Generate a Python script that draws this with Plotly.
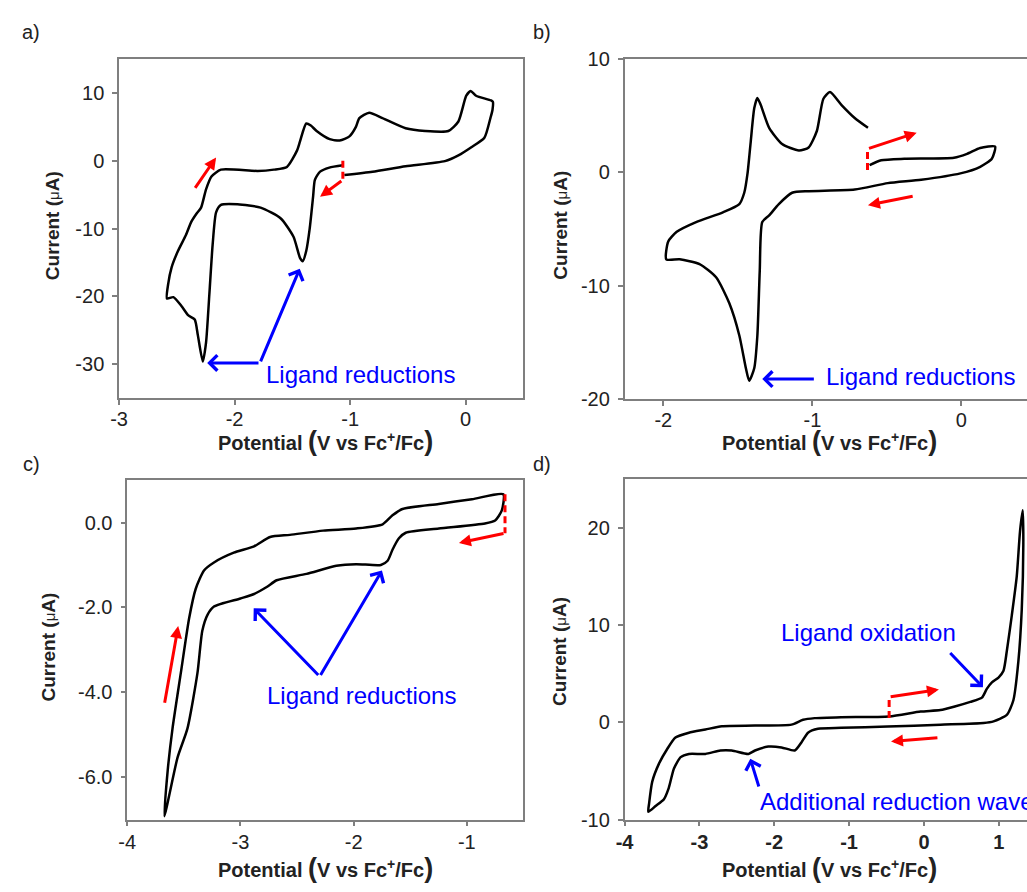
import plotly.graph_objects as go

FONT = "Arial, 'Liberation Sans', Helvetica, sans-serif"

# ---------------- data ----------------
# Panel a
a_potential = [-1.063, -1.18, -1.26, -1.305, -1.32, -1.35, -1.38, -1.41, -1.434, -1.49,
               -1.6, -1.775, -1.975, -2.118, -2.16, -2.19, -2.218, -2.247, -2.275, -2.318,
               -2.345, -2.40, -2.46, -2.53, -2.585, -2.574, -2.545, -2.49, -2.42, -2.375,
               -2.33, -2.29, -2.247, -2.20, -2.118, -1.8, -1.66, -1.547, -1.46, -1.433,
               -1.38, -1.34, -1.29, -1.177, -1.09, -1.006, -0.95, -0.92, -0.835, -0.72,
               -0.52, -0.35, -0.15, -0.063, 0.005, 0.043, 0.09, 0.22, 0.235, 0.232,
               0.214, 0.162, 0.049, -0.063, -0.18, -0.52, -0.806, -1.05]
a_current = [-0.66, -1.0, -1.6, -2.8, -5.2, -10.0, -13.3, -14.8, -14.3, -11.2,
             -8.5, -6.9, -6.4, -6.5, -7.6, -12.4, -19.6, -26.8, -29.6, -25.7,
             -23.4, -22.8, -21.4, -20.1, -20.3, -18.1, -15.7, -13.3, -10.9, -9.0,
             -7.8, -6.9, -4.2, -2.3, -1.3, -1.5, -1.3, -0.9, 1.5, 2.9,
             5.5, 5.2, 4.4, 3.2, 3.0, 3.6, 5.0, 6.3, 7.1, 6.3,
             4.8, 4.4, 4.4, 5.8, 9.6, 10.3, 9.6, 8.9, 8.7, 7.5,
             6.3, 3.4, 2.0, 0.8, -0.05, -0.8, -1.6, -2.1]

# Panel b
b_potential = [-0.627, -0.716, -0.804, -0.882, -0.926, -0.97, -1.025, -1.09, -1.203, -1.29,
               -1.346, -1.369, -1.39, -1.413, -1.435, -1.457, -1.49, -1.60, -1.78, -1.91,
               -1.967, -1.98, -1.89, -1.757, -1.646, -1.557, -1.49, -1.446, -1.424, -1.39,
               -1.369, -1.353, -1.336, -1.29, -1.225, -1.136, -1.025, -0.716, -0.494, -0.27,
               -0.007, 0.126, 0.204, 0.226, 0.126, 0.038, -0.05, -0.383, -0.538, -0.616]
b_current = [3.93, 4.8, 5.94, 7.09, 6.5, 3.65, 2.2, 1.93, 2.5, 3.93,
             5.94, 6.57, 5.65, 2.79, -0.09, -1.8, -2.8, -3.53, -4.39, -5.25,
             -6.1, -7.68, -7.68, -8.1, -9.26, -11.56, -14.4, -17.3, -18.4, -17.3,
             -14.4, -8.7, -4.39, -3.8, -2.8, -1.8, -1.66, -1.52, -0.95, -0.65,
             -0.09, 0.49, 1.2, 2.27, 2.15, 1.63, 1.29, 1.2, 1.07, 0.64]

# Panel c
c_potential = [-0.678, -0.692, -0.75, -0.84, -1.248, -1.54, -1.60, -1.657, -1.70, -1.76,
               -1.978, -2.153, -2.416, -2.68, -2.768, -2.885, -3.0, -3.234, -3.29, -3.337,
               -3.38, -3.468, -3.556, -3.672, -3.643, -3.60, -3.527, -3.453, -3.395, -3.322,
               -3.234, -3.059, -2.88, -2.738, -2.563, -2.27, -1.978, -1.744, -1.657, -1.569,
               -1.248, -0.955, -0.678]
c_current = [0.667, 0.28, 0.05, -0.02, -0.14, -0.24, -0.37, -0.64, -0.9, -1.0,
             -0.98, -1.02, -1.21, -1.36, -1.52, -1.69, -1.79, -1.98, -2.17, -2.55,
             -3.55, -4.85, -5.54, -6.92, -5.85, -4.85, -3.55, -2.25, -1.56, -1.13,
             -0.94, -0.71, -0.56, -0.34, -0.29, -0.19, -0.14, -0.04, 0.17, 0.32,
             0.44, 0.55, 0.667]

# Panel d
d_potential = [-0.465, -0.044, 0.22, 0.4, 0.62, 0.775, 0.84, 0.908, 0.996, 1.063,
               1.107, 1.174, 1.24, 1.284, 1.32, 1.328, 1.307, 1.262, 1.195, 1.107,
               0.93, 0.797, 0.22, -0.486, -1.106, -1.416, -1.549, -1.637, -1.726, -1.903,
               -2.08, -2.257, -2.345, -2.567, -2.72, -2.92, -3.14, -3.25, -3.34, -3.41,
               -3.474, -3.585, -3.683, -3.673, -3.63, -3.54, -3.43, -3.32, -3.14, -2.92,
               -2.70, -2.257, -1.77, -1.615, -1.46, -1.106, -0.465]
d_current = [0.6, 1.1, 1.26, 1.6, 2.1, 2.54, 3.44, 4.1, 4.6, 5.3,
             7.3, 11.0, 15.0, 19.66, 21.8, 18.3, 11.6, 6.3, 2.27, 0.76,
             0.1, -0.07, -0.24, -0.44, -0.57, -0.67, -1.07, -2.07, -2.9, -2.58,
             -2.5, -2.9, -3.25, -2.9, -2.9, -3.25, -3.25, -3.58, -4.75, -6.76,
             -7.9, -8.6, -9.2, -8.4, -6.1, -4.25, -2.75, -1.57, -1.07, -0.74,
             -0.4, -0.34, -0.24, 0.26, 0.43, 0.53, 0.6]

# Tick values / labels
a_xticks = [-3, -2, -1, 0]
a_xlabels = ["-3", "-2", "-1", "0"]
a_yticks = [-30, -20, -10, 0, 10]
a_ylabels = ["-30", "-20", "-10", "0", "10"]
b_xticks = [-2, -1, 0]
b_xlabels = ["-2", "-1", "0"]
b_yticks = [-20, -10, 0, 10]
b_ylabels = ["-20", "-10", "0", "10"]
c_xticks = [-4, -3, -2, -1]
c_xlabels = ["-4", "-3", "-2", "-1"]
c_yticks = [-6, -4, -2, 0]
c_ylabels = ["-6.0", "-4.0", "-2.0", "0.0"]
d_xticks = [-4, -3, -2, -1, 0, 1]
d_xlabels = ["-4", "-3", "-2", "-1", "0", "1"]
d_yticks = [-10, 0, 10, 20]
d_ylabels = ["-10", "0", "10", "20"]

panel_letters = ["a)", "b)", "c)", "d)"]
x_title = ("<b>Potential </b><b><span style='font-size:27px'>(</span>V vs Fc<sup>+</sup>/Fc"
           "<span style='font-size:27px'>)</span></b>")
y_title = "<b>Current </b><b>(</b><span style='font-size:15px'>μ</span><b>A)</b>"

W, H = 1027, 892
BLUE = "#0000ff"
RED = "#ff0000"
FRAME = "#7f7f7f"

fig = go.Figure()
curve_line = dict(color="black", width=2.5, shape="spline", smoothing=0.6)
for xs, ys, xa, ya in [(a_potential, a_current, "x", "y"),
                       (b_potential, b_current, "x2", "y2"),
                       (c_potential, c_current, "x3", "y3"),
                       (d_potential, d_current, "x4", "y4")]:
    fig.add_trace(go.Scatter(x=xs, y=ys, xaxis=xa, yaxis=ya, mode="lines",
                             line=curve_line, hoverinfo="skip", showlegend=False))


def px_x(p):
    return p / W


def px_y(p):
    return 1 - p / H


def axis(domain, rng, tickvals, ticktext, anchor, mirror=True, bold=False, standoff=None):
    d = dict(domain=domain, range=rng, tickvals=tickvals, ticktext=ticktext,
             anchor=anchor, showline=True, linecolor=FRAME, linewidth=1.5,
             mirror=mirror, ticks="outside", ticklen=5, tickwidth=1.5,
             tickcolor=FRAME, showgrid=False, zeroline=False,
             tickfont=dict(family=FONT, size=20, color="#222222",
                           weight="bold" if bold else "normal"),
             fixedrange=True)
    if standoff is not None:
        d["ticklabelstandoff"] = standoff
    return d


fig.update_layout(
    width=W, height=H, margin=dict(l=0, r=0, t=0, b=0),
    paper_bgcolor="white", plot_bgcolor="white", showlegend=False,
    font=dict(family=FONT, color="#222222"),
    xaxis=axis([px_x(111), px_x(519)], [-3, 0.5], a_xticks, a_xlabels, "y", standoff=-3),
    yaxis=axis([px_y(397), px_y(49.3)], [-35, 15], a_yticks, a_ylabels, "x", standoff=4),
    xaxis2=axis([px_x(621), 1.0], [-2.26, 0.44], b_xticks, b_xlabels, "y2", standoff=-3),
    yaxis2=axis([px_y(397.7), px_y(49.3)], [-20, 10], b_yticks, b_ylabels, "x2",
                mirror=False, standoff=4),
    xaxis3=axis([px_x(119.3), px_x(519)], [-4, -0.5], c_xticks, c_xlabels, "y3", standoff=-1),
    yaxis3=axis([px_y(829), px_y(481)], [-7, 1], c_yticks, c_ylabels, "x3", standoff=4),
    xaxis4=axis([px_x(621), 1.0], [-4, 1.377], d_xticks, d_xlabels, "y4", bold=True,
                standoff=-1),
    yaxis4=axis([px_y(829), px_y(480)], [-10, 25], d_yticks, d_ylabels, "x4",
                mirror=False, standoff=4),
)

ann = []
# panel letters
for txt, (cx, cy) in zip(panel_letters, [(22, 22), (538, 22), (23, 464), (538, 464)]):
    ann.append(dict(text=txt, x=px_x(cx), y=px_y(cy), xref="paper", yref="paper",
                    xanchor="center", yanchor="middle", showarrow=False,
                    font=dict(family=FONT, size=20, color="#222222")))
# axis titles
for (cx, cy) in [(319, 441), (828, 441), (319, 879), (828, 879)]:
    ann.append(dict(text=x_title, x=px_x(cx), y=px_y(cy), xref="paper", yref="paper",
                    xanchor="center", yanchor="middle", showarrow=False,
                    font=dict(family=FONT, size=20, color="#222222")))
for (cx, cy) in [(44, 220), (556, 220), (40, 652), (556, 657)]:
    ann.append(dict(text=y_title, x=px_x(cx), y=px_y(cy), xref="paper", yref="paper",
                    xanchor="center", yanchor="middle", textangle=-90, showarrow=False,
                    font=dict(family=FONT, size=19, color="#222222")))

# blue labels
blue_font = dict(family=FONT, size=24, color=BLUE)
for txt, lx, cy in [("Ligand reductions", 257, 373), ("Ligand reductions", 822, 375),
                    ("Ligand reductions", 258, 702), ("Ligand oxidation", 777, 637),
                    ("Additional reduction wave", 756, 810)]:
    ann.append(dict(text=txt, x=px_x(lx), y=px_y(cy), xref="paper", yref="paper",
                    xanchor="left", yanchor="middle", showarrow=False, font=blue_font))


def arrow(ax, ay, x, y, xr, yr, color, head, size):
    return dict(text="", x=x, y=y, ax=ax, ay=ay, xref=xr, yref=yr, axref=xr, ayref=yr,
                showarrow=True, arrowhead=head, arrowsize=size, arrowwidth=3,
                arrowcolor=color, standoff=0, startstandoff=0)


# blue arrows
ann += [
    arrow(-1.78, -29.8, -2.237, -29.8, "x", "y", BLUE, 4, 1.0),
    arrow(-1.78, -29.8, -1.436, -15.9, "x", "y", BLUE, 4, 1.0),
    arrow(-0.98, -18.25, -1.336, -18.25, "x2", "y2", BLUE, 4, 1.0),
    arrow(-2.30, -3.63, -2.883, -2.02, "x3", "y3", BLUE, 4, 1.0),
    arrow(-2.30, -3.63, -1.75, -1.13, "x3", "y3", BLUE, 4, 1.0),
    arrow(0.332, 7.28, 0.788, 3.6, "x4", "y4", BLUE, 4, 1.0),
    arrow(-2.2, -6.76, -2.32, -3.75, "x4", "y4", BLUE, 4, 1.0),
]
# red arrows
ann += [
    arrow(-2.35, -4.2, -2.16, 0.5, "x", "y", RED, 2, 0.8),
    arrow(-1.063, -2.8, -1.26, -5.3, "x", "y", RED, 2, 0.8),
    arrow(-0.63, 2.07, -0.30, 3.5, "x2", "y2", RED, 2, 0.8),
    arrow(-0.317, -2.09, -0.627, -2.9, "x2", "y2", RED, 2, 0.8),
    arrow(-3.672, -4.28, -3.55, -2.44, "x3", "y3", RED, 2, 0.8),
    arrow(-0.663, -0.25, -1.07, -0.48, "x3", "y3", RED, 2, 0.8),
    arrow(-0.465, 2.6, 0.2, 3.37, "x4", "y4", RED, 2, 0.8),
    arrow(0.2, -1.57, -0.44, -1.98, "x4", "y4", RED, 2, 0.8),
]
fig.update_layout(annotations=ann)

# red dashed vertical markers (scan start)
dash_line = dict(color=RED, width=3, dash="7px,4px")
shapes = [
    dict(type="line", xref="x", yref="y", x0=-1.063, x1=-1.063, y0=0.0, y1=-2.8, line=dash_line),
    dict(type="line", xref="x2", yref="y2", x0=-0.63, x1=-0.63, y0=0.2, y1=2.07, line=dash_line),
    dict(type="line", xref="x3", yref="y3", x0=-0.663, x1=-0.663, y0=0.67, y1=-0.25, line=dash_line),
    dict(type="line", xref="x4", yref="y4", x0=-0.465, x1=-0.465, y0=0.43, y1=2.6, line=dash_line),
]
fig.update_layout(shapes=shapes)

fig.write_html("out.html")
